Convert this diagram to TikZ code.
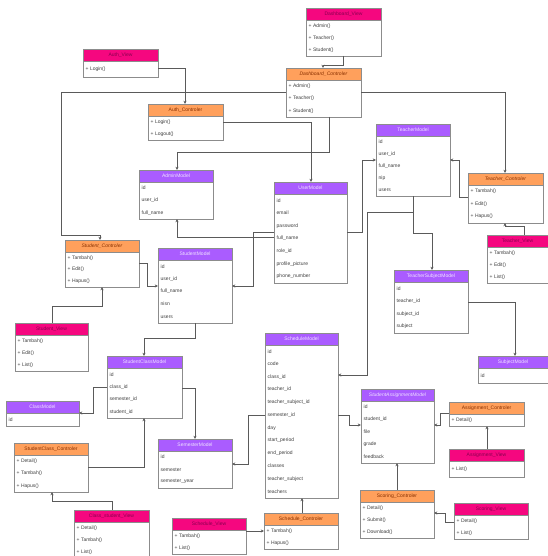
\documentclass[tikz,border=0pt]{standalone}
\usepackage{fontspec}
\setmainfont{Liberation Sans}
\usetikzlibrary{arrows.meta}
\definecolor{pinkc}{HTML}{F5077F}
\definecolor{orangec}{HTML}{FFA05C}
\definecolor{purplec}{HTML}{AA5CFF}
\definecolor{pinkt}{HTML}{8A0050}
\definecolor{oranget}{HTML}{8A3000}
\definecolor{purplet}{HTML}{F0E2FF}
\definecolor{framec}{HTML}{8C8C8C}
\definecolor{linec}{HTML}{5A5A5A}
\tikzset{
  pinkh/.style={fill=pinkc},
  orangeh/.style={fill=orangec},
  purpleh/.style={fill=purplec},
  hdrpinkh/.style={text=pinkt},
  hdrorangeh/.style={text=oranget},
  hdrpurpleh/.style={text=purplet},
  boxframe/.style={draw=framec, line width=0.7pt},
  boxnode/.style={draw=framec, line width=0.7pt, fill=white, inner sep=0pt, outer sep=0pt, anchor=north west},
  rowtxt/.style={anchor=west, inner sep=0pt, text=black!75, font=\fontsize{5}{6}\selectfont},
  hdrtxt/.style={inner sep=0pt, font=\fontsize{5}{6}\selectfont},
  arr/.style={draw=linec, line width=0.6pt, -{Stealth[length=3.2pt,width=3pt]}},
}
\newcommand\umlbox[9]{%
  \node[boxnode, minimum width={(#4-#2)*1pt}, minimum height={(#5-#3)*1pt}] (#1) at (#2,#3) {};
  \fill[#6] (#2,#3) rectangle (#4,#3+12);
  \draw[boxframe] (#2,#3) rectangle (#4,#5);
  \draw[boxframe] (#2,#3+12) -- (#4,#3+12);
  \node[hdrtxt, hdr#6] at ({(#2+#4)/2},#3+6) {#7};
  \foreach \r [count=\i] in {#9} \node[rowtxt] at (#2+2.5,{#3+12+(\i-0.5)*(#5-#3-12)/#8}) {\r};
}
\begin{document}
\begin{tikzpicture}[x=1pt,y=-1pt]
\fill[white] (0,0) rectangle (547,556);
\useasboundingbox (0,0) rectangle (547,556);

% boxes
\umlbox{dv}{306}{8}{381}{56}{pinkh}{Dashboard\_View}{3}{+ Admin(), + Teacher(), + Student()}
\umlbox{dc}{286}{68}{361}{117}{orangeh}{\textit{Dashboard\_Controler}}{3}{+ Admin(), + Teacher(), + Student()}
\umlbox{av}{83}{49}{158}{77}{pinkh}{Auth\_View}{1}{+ Login()}
\umlbox{ac}{148}{104}{223}{140}{orangeh}{Auth\_Controler}{2}{+ Login(), + Logout()}
\umlbox{am}{139}{170}{213}{219}{purpleh}{AdminModel}{3}{id, user\_id, full\_name}
\umlbox{um}{274}{182}{347}{283}{purpleh}{UserModel}{7}{id, email, password, full\_name, role\_id, profile\_picture, phone\_number}
\umlbox{tm}{376}{124}{450}{196}{purpleh}{TeacherModel}{5}{id, user\_id, full\_name, nip, users}
\umlbox{tc}{468}{173}{543}{223}{orangeh}{\textit{Teacher\_Controler}}{3}{+ Tambah(), + Edit(), + Hapus()}
\umlbox{tv}{487}{235}{548}{283}{pinkh}{Teacher\_View}{3}{+ Tambah(), + Edit(), + List()}
\umlbox{tsm}{394}{270}{468}{333}{purpleh}{TeacherSubjectModel}{4}{id, teacher\_id, subject\_id, subject}
\umlbox{subj}{478}{356}{548}{383}{purpleh}{SubjectModel}{1}{id}
\umlbox{sc}{65}{240}{139}{287}{orangeh}{\textit{Student\_Controler}}{3}{+ Tambah(), + Edit(), + Hapus()}
\umlbox{smod}{158}{248}{232}{323}{purpleh}{StudentModel}{5}{id, user\_id, full\_name, nisn, users}
\umlbox{sv}{15}{323}{88}{371}{pinkh}{Student\_View}{3}{+ Tambah(), + Edit(), + List()}
\umlbox{scm}{107}{356}{182}{418}{purpleh}{StudentClassModel}{4}{id, class\_id, semester\_id, student\_id}
\umlbox{cm}{6}{401}{79}{426}{purpleh}{ClassModel}{1}{id}
\umlbox{sem}{158}{439}{232}{488}{purpleh}{SemesterModel}{3}{id, semester, semester\_year}
\umlbox{scc}{14}{443}{88}{492}{orangeh}{StudentClass\_Controler}{3}{+ Detail(), + Tambah(), + Hapus()}
\umlbox{csv}{74}{510}{149}{558}{pinkh}{Class\_student\_View}{3}{+ Detail(), + Tambah(), + List()}
\umlbox{sch}{265}{333}{338}{498}{purpleh}{ScheduleModel}{12}{id, code, class\_id, teacher\_id, teacher\_subject\_id, semester\_id, day, start\_period, end\_period, classes, teacher\_subject, teachers}
\umlbox{schv}{172}{518}{246}{554}{pinkh}{Schedule\_View}{2}{+ Tambah(), + List()}
\umlbox{schc}{264}{513}{338}{549}{orangeh}{Schedule\_Controler}{2}{+ Tambah(), + Hapus()}
\umlbox{sam}{361}{389}{434}{463}{purpleh}{\textit{StudentAssignmentModel}}{5}{id, student\_id, file, grade, feedback}
\umlbox{asc}{449}{402}{524}{426}{orangeh}{Assignment\_Controler}{1}{+ Detail()}
\umlbox{asv}{449}{449}{524}{477}{pinkh}{Assignment\_View}{1}{+ List()}
\umlbox{scoc}{360}{490}{434}{538}{orangeh}{Scoring\_Controler}{3}{+ Detail(), + Submit(), + Download()}
\umlbox{scov}{454}{503}{528}{539}{pinkh}{Scoring\_View}{2}{+ Detail(), + List()}

% connectors
\draw[arr] (dv.south -| 343,0) |- (323,65) -- (dc.north -| 323,0);
\draw[arr] (dc.west |- 0,92) -- (61,92) -- (61,235) -- (100,235) -- (sc.north -| 100,0);
\draw[arr] (dc.east |- 0,92) -| (tc.north -| 505,0);
\draw[arr] (dc.south -| 329,0) |- (177,152) -- (am.north -| 177,0);
\draw[arr] (av.east |- 0,68) -| (ac.north -| 185,0);
\draw[arr] (ac.east |- 0,122) -| (um.north -| 311,0);
\draw[arr] (um.west |- 0,237) -| (am.south -| 177,0);
\draw[arr] (um.west |- 0,232) -- (253,232) |- (smod.east |- 0,286);
\draw[arr] (um.east |- 0,232) -- (362,232) |- (tm.west |- 0,160);
\draw[arr] (tc.west |- 0,197) -- (459,197) |- (tm.east |- 0,160);
\draw[arr] (tv.north -| 524,0) |- (505,226) -- (tc.south -| 505,0);
\draw[arr] (tm.south -| 413,0) |- (432,233) -- (tsm.north -| 432,0);
\draw[arr] (tm.south -| 413,0) -- (413,212) -- (367,212) |- (sch.east |- 0,375);
\draw[arr] (tsm.east |- 0,302) -| (subj.north -| 515,0);
\draw[arr] (sc.east |- 0,263) -- (147,263) |- (smod.west |- 0,286);
\draw[arr] (sv.north -| 52,0) |- (102,306) -- (sc.south -| 102,0);
\draw[arr] (smod.south -| 195,0) |- (144,338) -- (scm.north -| 144,0);
\draw[arr] (scm.west |- 0,387) -- (93,387) |- (cm.east |- 0,413);
\draw[arr] (scm.east |- 0,388) -| (sem.north -| 195,0);
\draw[arr] (sch.west |- 0,415) -- (248,415) |- (sem.east |- 0,464);
\draw[arr] (scc.east |- 0,467) -| (scm.south -| 144,0);
\draw[arr] (csv.north -| 112,0) |- (52,501) -- (scc.south -| 52,0);
\draw[arr] (schv.east |- 0,531) -- (schc.west |- 0,531);
\draw[arr] (schc.north -| 302,0) -- (sch.south -| 302,0);
\draw[arr] (sch.east |- 0,415) -- (349,415) |- (sam.west |- 0,425);
\draw[arr] (asc.west |- 0,413) -- (440,413) |- (sam.east |- 0,425);
\draw[arr] (asv.north -| 487,0) -- (asc.south -| 487,0);
\draw[arr] (scoc.north -| 397,0) -- (sam.south -| 397,0);
\draw[arr] (scov.west |- 0,522) -- (445,522) |- (scoc.east |- 0,513);
\end{tikzpicture}
\end{document}
